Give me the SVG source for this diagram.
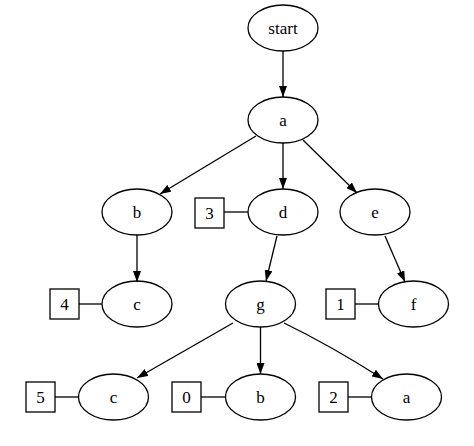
<svg xmlns="http://www.w3.org/2000/svg" width="474" height="446" viewBox="0 0 474 446">
<style>
.n ellipse, .n rect { fill: none; stroke: #000; stroke-width: 1.3; }
.e path, .e line { fill: none; stroke: #000; stroke-width: 1.3; }
.arr { marker-end: url(#ah); }
</style>
<defs>
<marker id="ah" viewBox="0 0 11 8" refX="11" refY="4" markerWidth="11" markerHeight="8" markerUnits="userSpaceOnUse" orient="auto">
<path d="M0,0 L11,4 L0,8 z" fill="#000"/>
</marker>
</defs>
<rect width="474" height="446" fill="#fff"/>
<g id="connectors" class="e">
<path class="arr" d="M283,51 L283,97"/>
<path class="arr" d="M256,136 L160,194"/>
<path class="arr" d="M283,143 L283,189"/>
<path class="arr" d="M303,140 L357,193"/>
<path class="arr" d="M137,235 L137,282"/>
<path class="arr" d="M277,236 L266,281"/>
<path class="arr" d="M385,236 L405,282"/>
<path class="arr" d="M233,323 L137,378"/>
<path class="arr" d="M260.5,327 L260.5,374"/>
<path class="arr" d="M284,323 C315,338 350,358 383,379"/>
<line x1="224" y1="212" x2="248" y2="212"/>
<line x1="79" y1="304" x2="102" y2="304"/>
<line x1="355" y1="304" x2="379" y2="304"/>
<line x1="55" y1="397" x2="79" y2="397"/>
<line x1="201" y1="397" x2="226" y2="397"/>
<line x1="348" y1="397" x2="372" y2="397"/>
</g>
<g font-family="'Liberation Serif', 'Times New Roman', serif" font-size="17" text-anchor="middle" fill="#000">
<g id="start" class="n"><ellipse cx="283" cy="28" rx="35" ry="23"/><text x="283" y="34">start</text></g>
<g id="a" class="n"><ellipse cx="283" cy="120" rx="35" ry="23"/><text x="283" y="126">a</text></g>
<g id="b" class="n"><ellipse cx="137" cy="212" rx="35" ry="23"/><text x="137" y="218">b</text></g>
<g id="d" class="n"><ellipse cx="283" cy="212" rx="35" ry="23"/><text x="283" y="218">d</text></g>
<g id="e" class="n"><ellipse cx="375" cy="212" rx="35" ry="23"/><text x="375" y="218">e</text></g>
<g id="box3" class="n"><rect x="195" y="198" width="29" height="30"/><text x="209.5" y="219">3</text></g>
<g id="c1" class="n"><ellipse cx="137" cy="304" rx="35" ry="23"/><text x="137" y="310">c</text></g>
<g id="box4" class="n"><rect x="50" y="289" width="29" height="30"/><text x="64.5" y="310">4</text></g>
<g id="g" class="n"><ellipse cx="260.5" cy="304" rx="35" ry="23"/><text x="260.5" y="310">g</text></g>
<g id="f" class="n"><ellipse cx="413.5" cy="304" rx="35" ry="23"/><text x="413.5" y="310">f</text></g>
<g id="box1" class="n"><rect x="326" y="289" width="29" height="30"/><text x="340.5" y="310">1</text></g>
<g id="c2" class="n"><ellipse cx="113.5" cy="397" rx="35" ry="23"/><text x="113.5" y="403">c</text></g>
<g id="box5" class="n"><rect x="26" y="382" width="29" height="30"/><text x="40.5" y="403">5</text></g>
<g id="b2" class="n"><ellipse cx="260.5" cy="397" rx="35" ry="23"/><text x="260.5" y="403">b</text></g>
<g id="box0" class="n"><rect x="172" y="382" width="29" height="30"/><text x="186.5" y="403">0</text></g>
<g id="a2" class="n"><ellipse cx="406.5" cy="397" rx="35" ry="23"/><text x="406.5" y="403">a</text></g>
<g id="box2" class="n"><rect x="319" y="382" width="29" height="30"/><text x="333.5" y="403">2</text></g>
</g>
</svg>
